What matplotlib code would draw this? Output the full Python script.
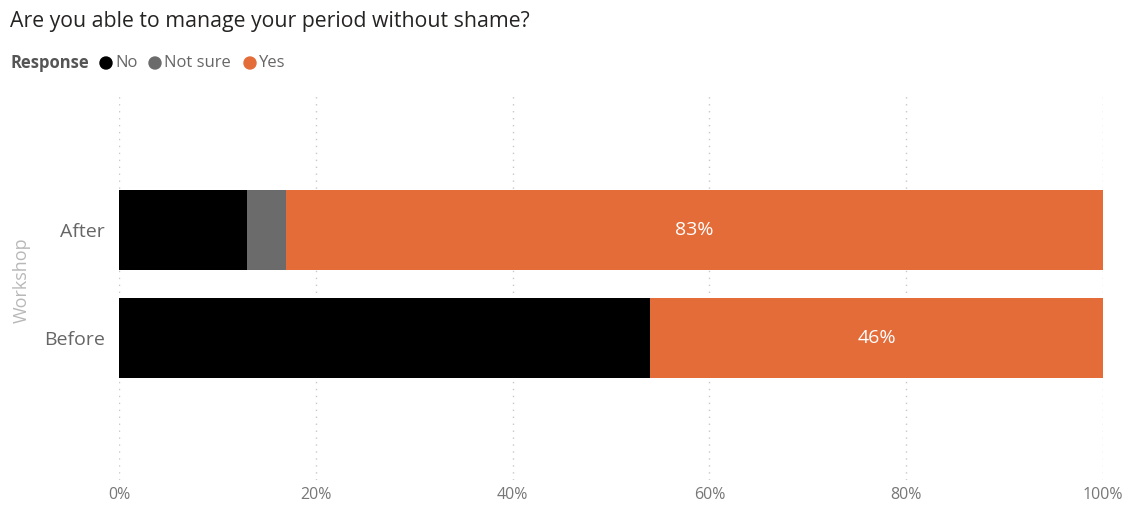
import numpy as np
import matplotlib.pyplot as plt
from matplotlib.patches import Ellipse

# data
workshops = ["Before", "After"]
responses = ["No", "Not sure", "Yes"]
no_vals = [54, 13]
not_sure_vals = [0, 4]
yes_vals = [46, 83]
colors = ["#000000", "#6b6b6b", "#e46c39"]

plt.rcParams['font.family'] = ['Open Sans', 'DejaVu Sans']

W, H = 1131, 507
fig = plt.figure(figsize=(W / 100, H / 100), dpi=100)
ax = fig.add_axes([119 / W, 1 - 480 / H, 984 / W, 385 / H])

y = np.arange(len(workshops))
left = np.zeros(len(workshops))
for vals, col in zip([no_vals, not_sure_vals, yes_vals], colors):
    ax.barh(y, vals, left=left, height=0.74, color=col, edgecolor='none', zorder=3)
    left += np.array(vals)

for i, v in enumerate(yes_vals):
    ax.text(100 - v / 2, y[i], f"{v}%", color='white', ha='center', va='center', fontsize=14, zorder=4)

ax.set_xlim(0, 100)
ax.set_ylim(-1.31, 2.25)
ax.set_xticks(np.arange(0, 101, 20))
ax.set_xticklabels([f"{t}%" for t in range(0, 101, 20)])
ax.set_yticks(y)
ax.set_yticklabels(workshops)
ax.tick_params(axis='x', length=0, pad=5, labelsize=11.5, labelcolor='#777777')
ax.tick_params(axis='y', length=0, pad=10, labelsize=14, labelcolor='#666666')
ax.grid(axis='x', color='#c8c8c8', linestyle=(0, (1, 4)), linewidth=1, zorder=0)
for s in ax.spines.values():
    s.set_visible(False)
ax.set_ylabel("Workshop", color='#b8b8b8', fontsize=13, labelpad=10)
ax.yaxis.set_label_coords(-0.09, 0.52)

fig.text(10 / W, 1 - 22 / H, "Are you able to manage your period without shame?",
         fontsize=15.3, color='#252423', va='center', ha='left')

# legend row
ly = 1 - 63 / H
fig.text(10 / W, ly, "Response", fontsize=12, fontweight='bold', color='#555555', va='center')
circle_x = [106, 155, 250]
for x0, lab, col in zip(circle_x, responses, colors):
    fig.patches.append(Ellipse((x0 / W, ly), 12 / W, 12 / H, transform=fig.transFigure,
                               color=col, figure=fig))
    fig.text((x0 + 9) / W, ly, lab, fontsize=12, color='#666666', va='center')

fig.savefig("out.png", dpi=100)
